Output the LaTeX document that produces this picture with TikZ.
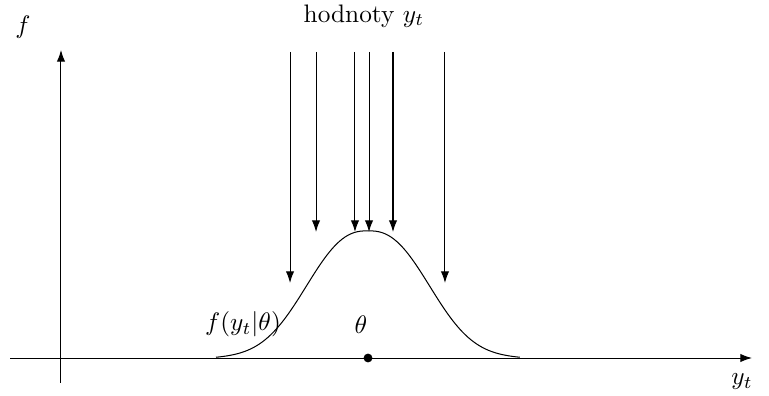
\documentclass[tikz,border=0pt]{standalone}
\usepackage{amsmath,amssymb}
\usepackage{tikz}
\usetikzlibrary{arrows.meta, positioning, calc}
\tikzstyle{arrow} = [-{Latex[length=4.6pt,width=3.3pt]}]
\tikzstyle{dot} = [circle, fill=black, inner sep=0pt, minimum size=3.5pt]
\tikzstyle{label} = [inner sep=1pt]

\begin{document}
\begin{tikzpicture}
    \useasboundingbox (-0.847,-0.514) rectangle (9.833,4.972);

    % axes
    \coordinate (xstart) at (-0.708,0);
    \coordinate (xend) at (9.597,0);
    \coordinate (ystart) at (0,-0.347);
    \coordinate (yend) at (0,4.278);
    \draw[arrow] (xstart) -- (xend);
    \draw[arrow] (ystart) -- (yend);

    \node[label] (flabel) at (-0.528,4.597) {$f$};
    \node[label] (ytlabel) at (9.458,-0.333) {$y_t$};
    \node[label] (hodnoty) at (4.208,4.75) {hodnoty $y_t$};

    % density curve
    \draw[domain=-2.111:2.111, samples=100, smooth]
        plot ({4.264+\x}, {1.764*exp(-pow((abs(\x)+0.0001)/1.068,2.4)) + 0.08*(abs(\x)/2.111)*(1-abs(\x)/2.111)});

    \node[dot] (theta) at (4.264,0) {};
    \node[label] (thetalabel) at (4.167,0.458) {$\theta$};
    \node[label] (density) at (2.528,0.472) {$f(y_t|\theta)$};

    % observed values
    \foreach \x/\y [count=\i] in {3.181/1.042, 3.542/1.75, 4.083/1.75, 4.278/1.75, 4.611/1.75, 5.333/1.042} {
        \coordinate (top\i) at (\x,4.25);
        \coordinate (bot\i) at (\x,\y);
        \draw[arrow] (top\i) -- (bot\i);
    }
\end{tikzpicture}
\end{document}
